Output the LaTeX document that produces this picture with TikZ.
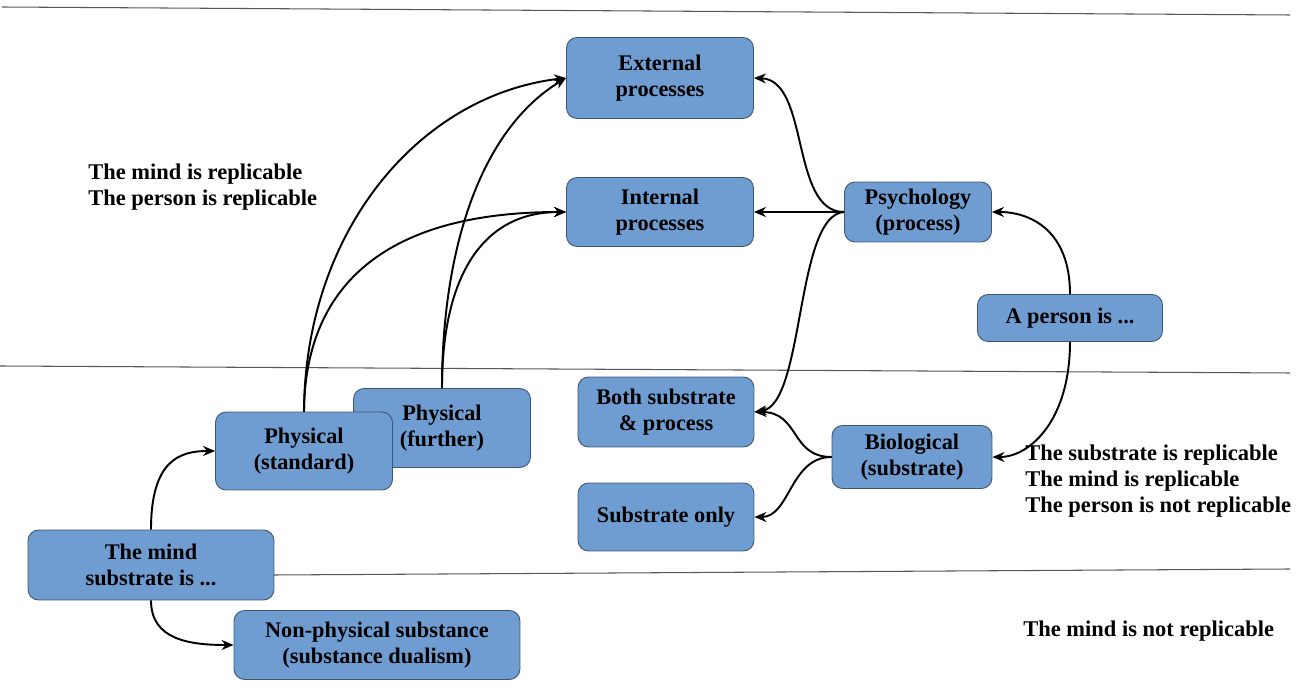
\documentclass[tikz,border=0pt]{standalone}
\usepackage{fontspec}
\setmainfont{Liberation Serif}
\usepackage{tikz}
\usetikzlibrary{arrows.meta}
\definecolor{box_blue}{HTML}{6F9DD2}
\definecolor{box_edge}{HTML}{3E5670}

\tikzset{
  box/.style={draw=box_edge, line width=0.5pt, fill=box_blue, rounded corners=6pt,
    align=center, inner sep=0pt, font=\fontsize{12.7}{15.2}\selectfont\bfseries},
  link/.style={line width=1.1pt, -{Stealth[length=2.4mm,width=2mm]}},
  band/.style={line width=0.6pt, black!65},
  note/.style={anchor=west, inner sep=0pt, align=left, font=\fontsize{12.8}{15}\selectfont\bfseries}
}

\begin{document}
\begin{tikzpicture}[x=0.02cm, y=-0.02cm]
    \useasboundingbox (0,0) rectangle (1303,695);
    % band lines
    \draw[band] (2,7) -- (1290,15);
    \draw[band] (0,366) -- (1290,373);
    \coordinate (bandL) at (274,575);
    \coordinate (bandR) at (1290,569);
    \draw[band] (bandL) -- (bandR);

    % boxes
    \node[box, minimum width=3.74cm, minimum height=1.62cm] (ext) at (660,78) {External\\processes};
    \node[box, minimum width=3.74cm, minimum height=1.38cm] (int) at (660,212) {Internal\\processes};
    \node[box, minimum width=2.94cm, minimum height=1.2cm] (psy) at (918,212) {Psychology\\(process)};
    \node[box, minimum width=3.7cm, minimum height=0.94cm] (person) at (1070,318) {A person is ...};
    \node[box, minimum width=3.52cm, minimum height=1.4cm] (both) at (666,412) {Both substrate\\\& process};
    \node[box, minimum width=3.52cm, minimum height=1.36cm] (subonly) at (666,517) {Substrate only};
    \node[box, minimum width=3.2cm, minimum height=1.26cm] (bio) at (912,457) {Biological\\(substrate)};
    \node[box, minimum width=3.54cm, minimum height=1.58cm] (further) at (442,428) {Physical\\(further)};
    \node[box, minimum width=3.54cm, minimum height=1.56cm] (standard) at (304,451) {Physical\\(standard)};
    \node[box, minimum width=4.92cm, minimum height=1.4cm] (mind) at (151,565) {The mind\\substrate is ...};
    \node[box, minimum width=5.72cm, minimum height=1.38cm] (nonphys) at (377,645) {Non-physical substance\\(substance dualism)};

    % notes
    \node[note] (noteTop) at (88,187) {The mind is replicable\\The person is replicable};
    \node[note] (noteBio) at (1025,481) {The substrate is replicable\\The mind is replicable\\The person is not replicable};
    \node[note] (noteNon) at (1023,631) {The mind is not replicable};

    % connectors
    \draw[link] (standard.north) .. controls (305,230) and (420,95) .. (ext.west);
    \draw[link] (standard.north) .. controls (305,290) and (380,212) .. (int.west);
    \draw[link] (further.north) .. controls (442,250) and (480,130) .. (ext.west);
    \draw[link] (further.north) .. controls (442,280) and (480,212) .. (int.west);
    \draw[link] (psy.west) .. controls (790,212) and (810,80) .. (ext.east);
    \draw[link] (psy.west) -- (int.east);
    \draw[link] (psy.west) .. controls (795,215) and (805,405) .. (both.east);
    \draw[link] (person.north) .. controls (1070,230) and (1030,212) .. (psy.east);
    \draw[link] (person.south) .. controls (1070,420) and (1030,457) .. (bio.east);
    \draw[link] (bio.west) .. controls (790,457) and (800,412) .. (both.east);
    \draw[link] (bio.west) .. controls (790,457) and (790,517) .. (subonly.east);
    \draw[link] (mind.north) .. controls (151,460) and (180,451) .. (standard.west);
    \draw[link] (mind.south) .. controls (151,640) and (190,645) .. (nonphys.west);
\end{tikzpicture}
\end{document}
